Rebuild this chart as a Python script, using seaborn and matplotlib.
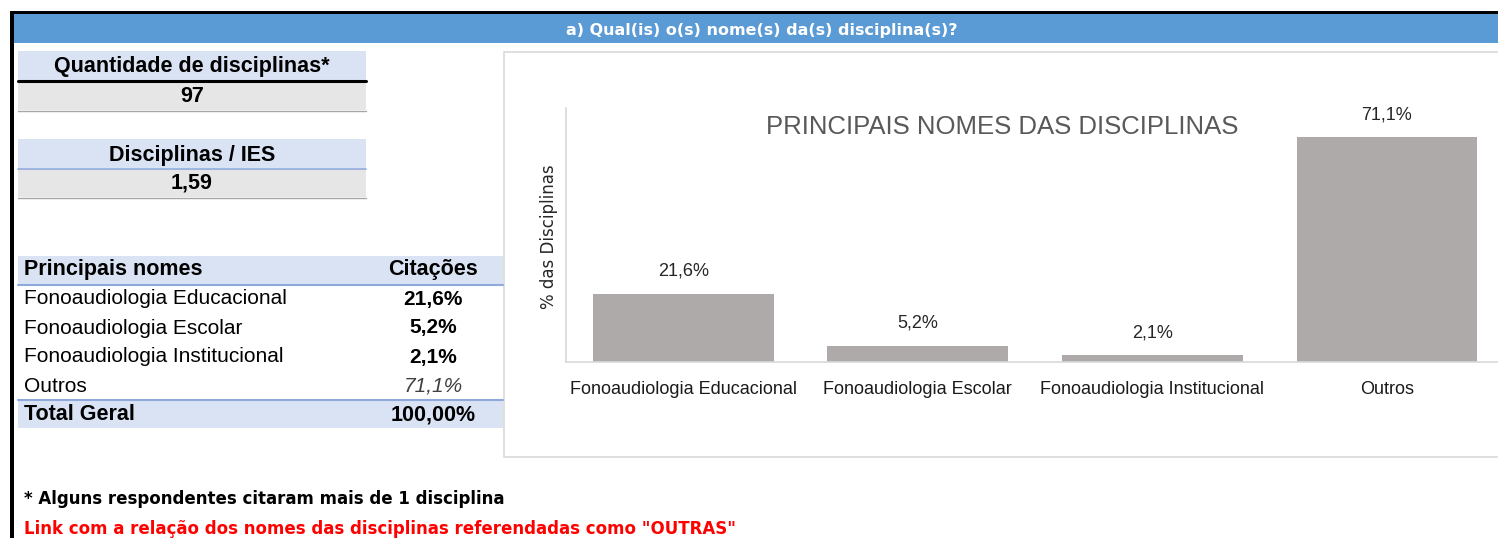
import matplotlib
matplotlib.use("Agg")
import matplotlib.pyplot as plt
from matplotlib.patches import Rectangle
from matplotlib.lines import Line2D
import seaborn as sns
import pandas as pd

# ---------------- data ----------------
categories = ["Fonoaudiologia Educacional", "Fonoaudiologia Escolar",
              "Fonoaudiologia Institucional", "Outros"]
values = [21.6, 5.2, 2.1, 71.1]
value_labels = ["21,6%", "5,2%", "2,1%", "71,1%"]
total_label = "100,00%"
qtd_disciplinas = "97"
disc_por_ies = "1,59"

header_title = "a) Qual(is) o(s) nome(s) da(s) disciplina(s)?"
chart_title = "PRINCIPAIS NOMES DAS DISCIPLINAS"
y_label = "% das Disciplinas"
footnote = "* Alguns respondentes citaram mais de 1 disciplina"
link_text = 'Link com a relação dos nomes das disciplinas referendadas como "OUTRAS"'

# ---------------- figure ----------------
sns.set_theme(style="white")
plt.rcParams['font.family'] = ['Liberation Sans', 'DejaVu Sans']

W, H = 1498, 538
fig = plt.figure(figsize=(W / 100, H / 100), dpi=100)
fig.patch.set_facecolor("white")


def fx(x):
    return x / W


def fy(y):
    return 1 - y / H


def rect(x0, y0, x1, y1, fc, ec="none", lw=0, z=-1):
    fig.patches.append(Rectangle((fx(x0), fy(y1)), fx(x1) - fx(x0), fy(y0) - fy(y1),
                                 transform=fig.transFigure, facecolor=fc,
                                 edgecolor=ec, linewidth=lw, zorder=z))


def hline(x0, x1, y, color, lw):
    fig.lines.append(Line2D([fx(x0), fx(x1)], [fy(y), fy(y)], transform=fig.transFigure,
                            color=color, linewidth=lw))


def txt(x, y, s, size, ha="left", weight="normal", style="normal", color="black", family=None):
    kw = {}
    if family:
        kw["family"] = family
    fig.text(fx(x), fy(y), s, ha=ha, va="center", fontsize=size, fontweight=weight,
             fontstyle=style, color=color, **kw)


# outer black frame and blue header
rect(10, 11, W, 14, "black")
rect(10, 11, 14, H, "black")
rect(14, 14, W, 43, "#5B9BD5")
txt(762, 30, header_title, 11.5, ha="center", weight="bold", color="white",
    family=["DejaVu Sans"])

# small tables
rect(18, 51, 366, 80, "#DAE3F3")
hline(18, 366, 80.5, "black", 2.2)
rect(18, 82, 366, 110, "#E7E6E6")
hline(18, 366, 110.5, "#A6A6A6", 1)
txt(192, 66, "Quantidade de disciplinas*", 15.5, ha="center", weight="bold")
txt(192, 96, qtd_disciplinas, 15.5, ha="center", weight="bold")

rect(18, 139, 366, 168, "#DAE3F3")
hline(18, 366, 168.5, "#8EA9DB", 1.2)
rect(18, 169, 366, 197, "#E7E6E6")
hline(18, 366, 197.5, "#A6A6A6", 1)
txt(192, 155, "Disciplinas / IES", 15.5, ha="center", weight="bold")
txt(192, 183, disc_por_ies, 15.5, ha="center", weight="bold")

# principal names table
rect(18, 256, 503, 284, "#DAE3F3")
hline(18, 503, 284.5, "#8EA9DB", 1.5)
txt(24, 270, "Principais nomes", 15.5, weight="bold")
txt(433, 270, "Citações", 15.5, ha="center", weight="bold")
row_y = [299, 328, 357, 386]
for i, (cat, lab) in enumerate(zip(categories, value_labels)):
    txt(24, row_y[i], cat, 15)
    if cat == "Outros":
        txt(433, row_y[i], lab, 15, ha="center", style="italic", color="#404040")
    else:
        txt(433, row_y[i], lab, 15, ha="center", weight="bold")
hline(18, 503, 399.5, "#8EA9DB", 1.5)
rect(18, 400, 503, 428, "#DAE3F3")
txt(24, 415, "Total Geral", 15.5, weight="bold")
txt(433, 415, total_label, 15.5, ha="center", weight="bold")

# footnotes
txt(24, 499, footnote, 12, weight="bold", family=["DejaVu Sans"])
txt(24, 529, link_text, 12, weight="bold", color="#FF0000", family=["DejaVu Sans"])

# chart box
rect(504, 52, W + 5, 457, "white", ec="#D9D9D9", lw=1.2, z=-1)

# chart axes
ax = fig.add_axes([fx(566), fy(362), fx(W) - fx(566), fy(108) - fy(362)])
ax.set_facecolor("none")
df = pd.DataFrame({"cat": categories, "val": values})
sns.barplot(data=df, x="cat", y="val", color="#AEAAAA", saturation=1, width=0.77,
            ax=ax, edgecolor="none")
ax.set_ylim(0, 80.3)
ax.set_xlim(-0.5, 3.474)
ax.set_yticks([])
ax.set_xlabel("")
ax.set_ylabel("")
for s in ["top", "right"]:
    ax.spines[s].set_visible(False)
ax.spines["left"].set_color("#D9D9D9")
ax.spines["bottom"].set_color("#D9D9D9")
ax.spines["left"].set_linewidth(1.2)
ax.spines["bottom"].set_linewidth(1.2)
ax.tick_params(axis="x", length=0, pad=14, labelsize=13, colors="#1a1a1a")
ax.bar_label(ax.containers[0], labels=value_labels, padding=10, fontsize=13,
             color="#262626")

fig.text(fx(1002), fy(127), chart_title, ha="center", va="center", fontsize=18.5,
         color="#595959")
fig.text(fx(549), fy(237), y_label, ha="center", va="center", rotation=90,
         fontsize=12, color="#262626", family=["DejaVu Sans"])

fig.savefig("out.png", dpi=100)
